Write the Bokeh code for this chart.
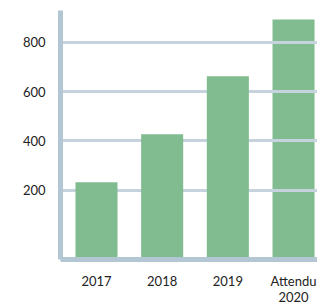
from bokeh.plotting import figure
from bokeh.models import Range1d, FixedTicker, ColumnDataSource
from bokeh.embed import file_html
from bokeh.resources import INLINE

categories = ["2017", "2018", "2019", "Attendu\n2020"]
values = [233, 427, 662, 892]
y_ticks = [200, 400, 600, 800]

x_pos = list(range(len(categories)))
y_start = -80

p = figure(width=317, height=307, output_backend="svg", toolbar_location=None,
           x_range=Range1d(-0.548, 3.365), y_range=Range1d(y_start, 928),
           min_border_left=60, min_border_right=0, min_border_top=10, min_border_bottom=48)

src_main = ColumnDataSource(dict(x=x_pos[:3], top=values[:3]))
src_last = ColumnDataSource(dict(x=x_pos[3:], top=values[3:]))
p.vbar(x="x", top="top", bottom=y_start, width=0.64, source=src_main,
       fill_color="#80bc8f", line_color=None)
r_last = p.vbar(x="x", top="top", bottom=y_start, width=0.64, source=src_last,
                fill_color="#80bc8f", line_color=None)
r_last.level = "image"

p.outline_line_color = None
p.xgrid.grid_line_color = None
p.ygrid.ticker = FixedTicker(ticks=y_ticks)
p.ygrid.grid_line_color = "#c6d2dd"
p.ygrid.grid_line_width = 3

p.yaxis.ticker = FixedTicker(ticks=y_ticks)
p.xaxis.ticker = FixedTicker(ticks=x_pos)
p.xaxis.major_label_overrides = {i: c for i, c in enumerate(categories)}

for ax in (p.xaxis, p.yaxis):
    ax.axis_line_color = "#b3c6d4"
    ax.axis_line_width = 5
    ax.major_tick_line_color = None
    ax.minor_tick_line_color = None
    ax.major_tick_out = 0
    ax.major_tick_in = 0
    ax.major_label_text_font = "Lato"
    ax.major_label_text_font_size = "13px"
    ax.major_label_text_color = "#222222"

p.yaxis.major_label_standoff = 15
p.xaxis.major_label_standoff = 13
p.xaxis.major_label_text_line_height = 1.0

open("out.html", "w").write(file_html(p, INLINE))
